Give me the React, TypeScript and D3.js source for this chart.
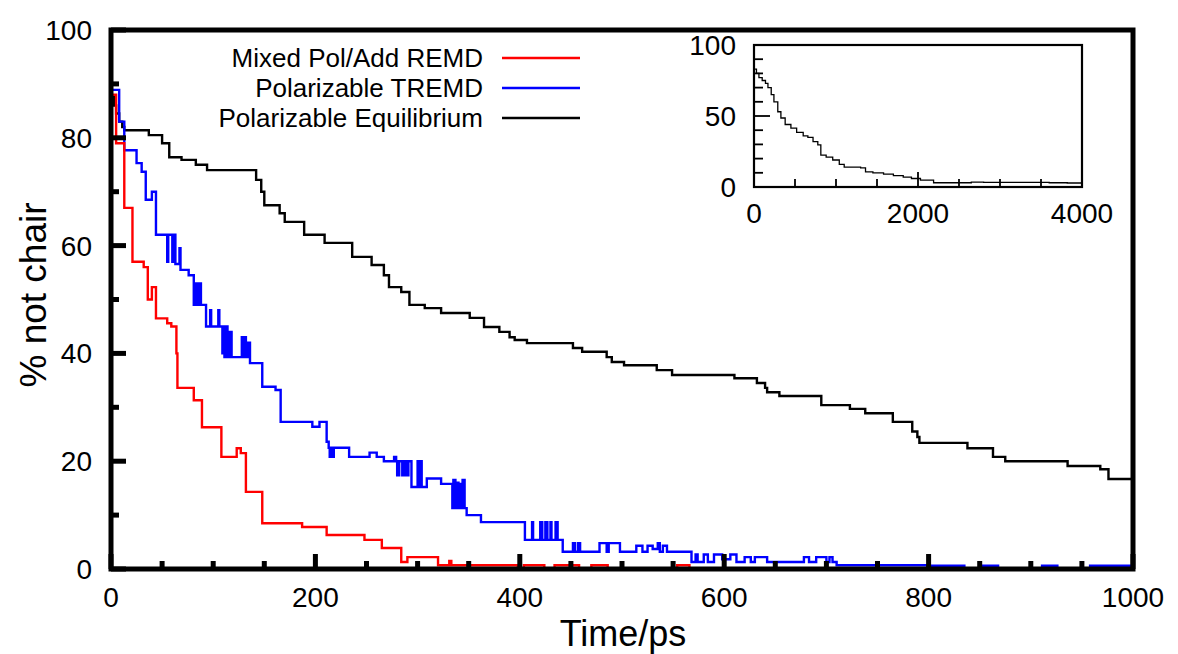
import React from "react";
import * as d3 from "d3";

const redT = [0, 5, 13, 21, 32, 36, 40, 44, 55, 59, 64, 65, 81, 89, 108, 123, 127, 132, 148, 187, 211, 248, 265, 284, 290, 320, 331, 333, 398, 404, 424, 434, 458, 470, 486, 554, 566, 1000];
const redV = [88, 79, 67, 57, 56, 50, 52.3, 46.5, 45.6, 45, 40, 33.6, 31.3, 26.3, 20.8, 22.4, 21.5, 14.3, 8.5, 7.8, 6.3, 5.4, 3.9, 1.3, 2.2, 0.7, 1.5, 0.7, 0, 0.7, 0, 0.7, 0, 0.7, 0, 0.7, 0, 0];

const blueT = [0, 8, 13, 25, 30, 34, 40, 44, 55, 56, 60, 61, 63, 67, 68, 76, 81, 83, 85, 86, 88, 93, 97, 98, 105, 106, 109, 110, 111, 113, 114, 116, 118, 128, 129, 131, 132, 134, 136, 148, 161, 166, 197, 204, 211, 213, 214, 215, 217, 218, 233, 253, 260, 267, 277, 279, 280, 282, 285, 287, 289, 291, 294, 300, 302, 303, 304, 309, 323, 334, 335, 337, 338, 340, 341, 343, 344, 346, 348, 362, 405, 412, 413, 420, 422, 425, 427, 430, 431, 435, 437, 442, 452, 454, 457, 459, 478, 485, 487, 498, 514, 520, 525, 530, 535, 537, 540, 544, 568, 572, 574, 580, 584, 590, 598, 606, 612, 620, 626, 630, 642, 678, 683, 690, 700, 703, 706, 710, 799, 803, 835, 853, 868, 911, 926, 958, 995, 997, 1000];
const blueV = [88.9, 83, 77.7, 75.3, 73.7, 68.5, 70, 62, 57, 62, 57, 62, 56.6, 59.5, 55.5, 54.5, 49, 53, 49, 53, 49, 45, 48, 45, 48, 45, 40, 45, 39.3, 45, 39.3, 44, 39.3, 43, 39.3, 43, 39.3, 42, 38.2, 33.8, 33.2, 27.3, 26.4, 27.3, 23.6, 22.5, 20.8, 22.5, 20.8, 22.5, 20.8, 21.6, 20.8, 20, 20.8, 20, 17.4, 20, 17.4, 20, 17.4, 20, 15.2, 20, 15.2, 20, 15.2, 16.8, 15.8, 11.3, 16.5, 11.3, 16, 11.3, 15.8, 11.3, 16.5, 11.3, 10, 8.7, 5.4, 8.7, 5.4, 8.7, 5.4, 8.7, 5.4, 8.7, 5.4, 8.7, 5.4, 3.2, 4.8, 3.2, 4.8, 3.2, 4.8, 3.2, 4.8, 3.2, 4.3, 3.2, 4.3, 3.7, 4.8, 3.2, 4.3, 3.2, 1.3, 2.7, 1.3, 2.7, 1.3, 2.7, 1.8, 2.7, 1.3, 2.2, 1.3, 2.2, 1.3, 2.2, 1.3, 2.2, 1.3, 2.2, 1.3, 0.7, 0, 0.6, 0, 0.6, 0, 0.6, 0, 0.6, 0, 0.6, 0.6];

const blackT = [0, 3, 5, 8, 11, 13, 37, 50, 57, 69, 83, 94, 142, 147, 150, 165, 170, 189, 209, 236, 255, 267, 272, 284, 292, 307, 323, 351, 365, 380, 390, 395, 407, 452, 461, 485, 490, 502, 534, 549, 610, 632, 640, 642, 654, 695, 723, 738, 765, 784, 789, 791, 838, 863, 875, 936, 968, 976, 1000];
const blackV = [87.6, 86, 84.5, 83, 82, 81.4, 80.5, 79, 76.4, 75.9, 75, 74, 72.2, 70, 67.5, 66, 64.4, 62, 60.5, 57.9, 56.4, 54.5, 52.3, 51.4, 49, 48.4, 47.5, 46.6, 44.9, 44, 43, 42.5, 41.9, 41, 40.3, 39.3, 38.4, 37.8, 36.9, 36, 35.4, 34.5, 33.6, 32.8, 32.1, 30.4, 29.7, 28.9, 27.3, 25.5, 24.5, 23.4, 22.4, 20.8, 20, 19.1, 18.5, 16.7, 16.7];

const insetT = [0, 30, 60, 100, 140, 170, 210, 243, 290, 328, 380, 450, 520, 600, 657, 720, 778, 815, 880, 960, 1040, 1100, 1300, 1360, 1450, 1580, 1700, 1820, 1920, 2030, 2190, 2400, 2650, 2800, 3200, 3600, 3820, 4000];
const insetV = [83, 80, 77, 75, 73, 70, 65, 60, 53, 48.6, 44, 41.5, 38.5, 36, 35, 32, 29.6, 22.5, 21, 19, 16, 14, 13.4, 10.6, 10, 9, 8, 7, 6, 4.9, 3, 3, 3.5, 3.2, 3.2, 3, 2.8, 2];

const legendLabels = ["Mixed Pol/Add REMD", "Polarizable TREMD", "Polarizable Equilibrium"];
const legendColors = ["#ff0000", "#0000ff", "#000000"];
const xTicks = [0, 200, 400, 600, 800, 1000];
const yTicks = [0, 20, 40, 60, 80, 100];
const insetXTicks = [0, 2000, 4000];
const insetYTicks = [0, 50, 100];

const FONT = "'Liberation Sans', Arial, Helvetica, sans-serif";

export default function App() {
  const W = 1178, H = 654;
  const L = 111, R = 1133, T = 30, B = 569;
  const x = d3.scaleLinear().domain([0, 1000]).range([L, R]);
  const y = d3.scaleLinear().domain([0, 100]).range([B, T]);
  const iL = 754, iR = 1082, iT = 45, iB = 187;
  const ix = d3.scaleLinear().domain([0, 4000]).range([iL, iR]);
  const iy = d3.scaleLinear().domain([0, 100]).range([iB, iT]);

  const mk = (ts: number[], vs: number[], sx: any, sy: any) =>
    d3.line<number>().x((_, i) => sx(ts[i])).y((_, i) => sy(vs[i])).curve(d3.curveStepAfter)(ts)!;

  const series = [
    { t: blackT, v: blackV, c: "#000000" },
    { t: blueT, v: blueV, c: "#0000ff" },
    { t: redT, v: redV, c: "#ff0000" },
  ];

  const xMinor = d3.range(0, 1001, 50);
  const yMinor = d3.range(0, 101, 10);
  const ixMinor = d3.range(0, 4001, 500);
  const iyMinor = d3.range(0, 101, 10);

  return (
    <svg width={W} height={H} style={{ position: "absolute", left: 0, top: 0 }} fontFamily={FONT}>
      <rect x={0} y={0} width={W} height={H} fill="#fff" />
      <defs>
        <clipPath id="mainclip">
          <rect x={L} y={T} width={R - L} height={B - T} />
        </clipPath>
        <clipPath id="insetclip">
          <rect x={iL} y={iT} width={iR - iL} height={iB - iT} />
        </clipPath>
      </defs>
      <g clipPath="url(#mainclip)">
        {series.map((s, i) => (
          <path key={i} d={mk(s.t, s.v, x, y)} fill="none" stroke={s.c} strokeWidth={2.4} />
        ))}
      </g>
      {xMinor.map((t) => {
        const major = t % 200 === 0;
        return <line key={"xm" + t} x1={x(t)} x2={x(t)} y1={B} y2={B - (major ? 15 : 8)} stroke="#000" strokeWidth={5} />;
      })}
      {yMinor.map((v) => {
        const major = v % 20 === 0;
        return <line key={"ym" + v} x1={L} x2={L + (major ? 15 : 8)} y1={y(v)} y2={y(v)} stroke="#000" strokeWidth={5} />;
      })}
      <rect x={L} y={T} width={R - L} height={B - T} fill="none" stroke="#000" strokeWidth={5} />
      {xTicks.map((t) => (
        <text key={"xt" + t} x={x(t)} y={607} fontSize={28} textAnchor="middle">{t}</text>
      ))}
      {yTicks.map((v) => (
        <text key={"yt" + v} x={92} y={y(v) + 10} fontSize={28} textAnchor="end">{v}</text>
      ))}
      <text x={623} y={646} fontSize={36} textAnchor="middle">Time/ps</text>
      <text transform={`translate(46, ${295}) rotate(-90)`} fontSize={37} textAnchor="middle">% not chair</text>
      {legendLabels.map((lab, i) => (
        <g key={"lg" + i}>
          <text x={483} y={67 + i * 30} fontSize={26} textAnchor="end">{lab}</text>
          <line x1={502} x2={580} y1={58 + i * 30} y2={58 + i * 30} stroke={legendColors[i]} strokeWidth={2.4} />
        </g>
      ))}
      <rect x={iL} y={iT} width={iR - iL} height={iB - iT} fill="#fff" />
      <g clipPath="url(#insetclip)">
        <path d={mk(insetT, insetV, ix, iy)} fill="none" stroke="#000" strokeWidth={1.3} />
      </g>
      {ixMinor.map((t) => {
        const major = t % 2000 === 0;
        return <line key={"ixm" + t} x1={ix(t)} x2={ix(t)} y1={iB} y2={iB - (major ? 15 : 8)} stroke="#000" strokeWidth={1.8} />;
      })}
      {iyMinor.map((v) => {
        const major = v % 50 === 0;
        return <line key={"iym" + v} x1={iL} x2={iL + (major ? 16 : 9)} y1={iy(v)} y2={iy(v)} stroke="#000" strokeWidth={1.8} />;
      })}
      <rect x={iL} y={iT} width={iR - iL} height={iB - iT} fill="none" stroke="#000" strokeWidth={2.2} />
      {insetXTicks.map((t) => (
        <text key={"ixt" + t} x={ix(t)} y={223} fontSize={28} textAnchor="middle">{t}</text>
      ))}
      {insetYTicks.map((v) => (
        <text key={"iyt" + v} x={736} y={iy(v) + 10} fontSize={28} textAnchor="end">{v}</text>
      ))}
    </svg>
  );
}
